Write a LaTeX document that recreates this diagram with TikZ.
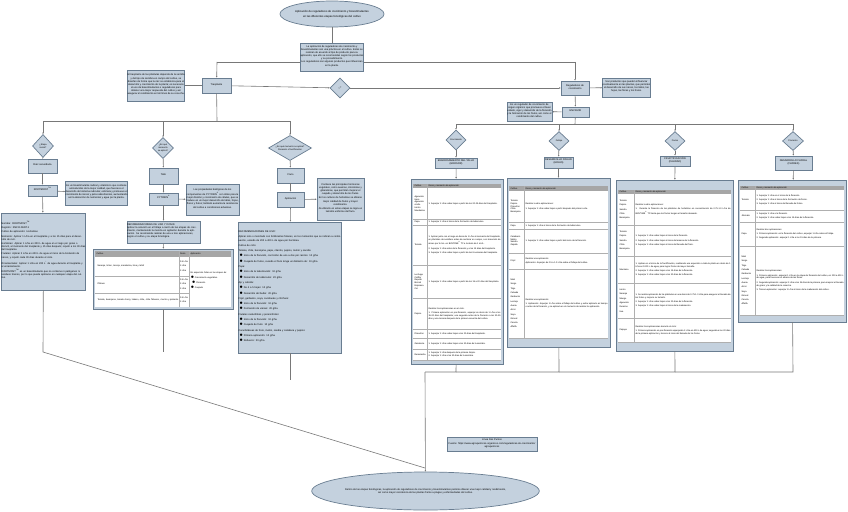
\documentclass[tikz,border=0pt]{standalone}
\usepackage{fontspec}
\setmainfont{Liberation Sans}
\usetikzlibrary{shapes.geometric,fit,arrows.meta}
\definecolor{bf}{RGB}{196,209,222}
\definecolor{bd}{RGB}{105,125,145}
\definecolor{ln}{RGB}{120,120,120}
\definecolor{hd}{RGB}{166,166,166}
\definecolor{rl}{RGB}{175,175,175}
\newcommand\fs{\fontsize{2.5}{3.1}\selectfont}
\newcommand\fc{\fontsize{2.2}{2.8}\selectfont}
\newcommand\trow[7]{%
  \pgfmathsetmacro\wa{#3-#1-2}\pgfmathsetmacro\wb{#4-#3-2}%
  \node[cellL, text width=\wa pt] at ({#1+1},{(#2+#5)/2}) {#6};
  \node[cellR, text width=\wb pt] at ({#3+1},{(#2+#5)/2}) {#7};
  \draw[rowl] (#1,#5) -- (#4,#5);}
\newcommand\tframe[9]{% x1 x2 ytop yhtop yhbot ybodbot ybot sep name
  \fill[bf] (#1,#3) rectangle (#2,#7);
  \draw[bd, line width=0.5pt] (#1,#3) rectangle (#2,#7);
  \fill[white] ({#1+2},#5) rectangle ({#2-2},#6);
  \fill[hd] ({#1+2},#4) rectangle ({#2-2},#5);
  \draw[rowl] (#8,#4) -- (#8,#6);
  \node[cellL] at ({#1+3},{(#4+#5)/2}) {Cultivo};
  \node[cellL] at ({#8+1},{(#4+#5)/2}) {Dosis y momento de aplicación};
  \node[fit={(#1,#3) (#2,#7)}, inner sep=0pt] (#9) {};}
\tikzset{
 box/.style={draw=bd, fill=bf, line width=0.7pt, inner sep=0pt, align=center, font=\fs},
 tbox/.style={box, align=justify},
 dia/.style={diamond, draw=bd, fill=bf, line width=0.7pt, inner sep=0pt},
 dtext/.style={font=\fontsize{2.2}{2.7}\selectfont, align=center, inner sep=0pt},
 ell/.style={ellipse, draw=bd, fill=bf, line width=0.7pt, inner sep=0pt, font=\fs, align=center},
 con/.style={draw=ln, line width=0.6pt},
 arr/.style={con, -{Latex[length=1.6pt,width=1.6pt]}},
 cellL/.style={anchor=west, inner sep=0.3pt, font=\fc, align=left},
 cellR/.style={anchor=west, inner sep=0.3pt, font=\fc, align=justify},
 rowl/.style={draw=rl, line width=0.6pt},
}
\begin{document}
\begin{tikzpicture}[x=1pt,y=-1pt]
\useasboundingbox[fill=white] (0,0) rectangle (848,511);

% ---------- connectors (behind) ----------
\coordinate (hl) at (217,62); \coordinate (hr) at (575,62);
\draw[con] (hl) -- (hr);
\coordinate (lb) at (43,121); \coordinate (lc) at (290,121); \coordinate (lm) at (163,121);
\coordinate (rb) at (456,124); \coordinate (rc) at (793,124);
\coordinate (rm2) at (559,124); \coordinate (rm3) at (675,124); \coordinate (rr) at (575,124);

% ---------- top ----------
\node[ell, minimum width=93pt, minimum height=26pt, font=\fontsize{2.8}{3.4}\selectfont] (title) at (332,14)
 {Aplicación de reguladores de crecimiento y bioestimulantes\\[1.6pt] en las diferentes etapas fenológicas del cultivo};
\node[tbox, fit={(299,43) (365,71)}, text width=63pt] (top) {La aplicación de reguladores de crecimiento y bioestimulantes son una práctica en el cultivo. Estos se realizan de acuerdo al tipo de producto para su aplicación, que ello se recomiendan según los productos y su procedimiento.\\ Los reguladores son algunos productos que influencian en la planta.};
\draw[con] (title) -- (top);

% ---------- left main ----------
\node[tbox, fit={(126,70) (186,101)}, text width=57pt] (ltxt) {El trasplante de las plántulas depende de la semilla y del tipo de siembra en campo del cultivo, se diseñan de forma que la raíz se establezca para el desarrollo y crecimiento de la planta; es necesario el uso de bioestimulantes o reguladores para obtener una mejor respuesta del cultivo y así asegurar el rendimiento en términos de su cosecha.};
\node[box, fit={(202,78) (231,93)}] (tras) {Trasplante};
\draw[arr] (hl) -- (tras);
\draw[con] (ltxt) -- (tras);
\node[dia, minimum width=20pt, minimum height=20pt, label={[dtext]center:¿?}] (q) at (340,88) {};
\draw[arr] (tras) -- (q);

% ---------- right main ----------
\node[box, fit={(561,81) (589,95)}] (reg) {Reguladores de\\crecimiento};
\draw[arr] (hr) -- (reg);
\draw[arr] (q) -- (reg);
\node[tbox, fit={(601,78) (652,97)}, text width=48pt] (rtxt) {Son productos que pueden influenciar positivamente en las plantas, que permiten el desarrollo de sus raíces, los tallos, las hojas, las flores y los frutos.};
\draw[arr] (reg) -- (rtxt);
\node[box, fit={(562,107) (589,117)}] (env) {ENVIGOR};
\draw[arr] (reg) -- (env);
\node[tbox, fit={(506,102) (553,121)}, text width=45pt] (etxt) {Es un regulador de crecimiento de origen orgánico que promueve el buen estado, vigor y desarrollo de la floración y la formación de los frutos, así como el rendimiento del cultivo.};
\draw[arr] (env) -- (etxt);
\draw[con] (env) -- (rr);
\draw[con] (rb) -- (rc);

% ---------- left branches ----------
\draw[con] (tras) -- (217,121);
\draw[con] (lb) -- (lc);
\node[dia, minimum width=21pt, minimum height=23pt, label={[dtext]center:¿Etapa\\inicial?}] (da) at (43,146) {};
\node[dia, minimum width=21pt, minimum height=21pt, label={[dtext]center:¿En qué\\momento\\se aplica?}] (db) at (163,148) {};
\node[dia, minimum width=43pt, minimum height=25pt, label={[dtext]center:¿En qué momento se aplica?\\Floración o fructificación}] (dc) at (290,148) {};
\draw[arr] (lb) -- (da); \draw[arr] (lm) -- (db); \draw[arr] (lc) -- (dc);

% column A
\node[box, fit={(28,159) (57,173)}] (a1) {Raíz secundaria};
\node[box, fit={(28,185) (57,196)}] (a2) {ROOTMOST\textsuperscript{TM}};
\node[tbox, fit={(64,181) (129,205)}, text width=62pt] (atxt) {Es un bioestimulante radical y vitamínico que contiene aminoácidos de la mejor calidad, que favorece el desarrollo del sistema radicular; estimula y promueve el crecimiento de raíces y pelos absorbentes, aumentando así la absorción de nutrientes y agua por la planta.};
\node[tbox, fit={(0,213) (87,290)}, text width=84pt, align=left] (abig) {%
Nombre: ROOTMOST\textsuperscript{TM}\\[1.2pt]
Registro: RSCO-FERT-1\\[1.2pt]
Cultivo de aplicación: Hortalizas\\[1.2pt]
Momento: Aplicar 1 L/ha en el trasplante y a los 15 días para el desarrollo de raíz.\\[1.2pt]
Hortalizas: Aplicar 1 L/ha en 200 L de agua en el riego por goteo o drench, al momento del trasplante y 15 días después; repetir a los 30 días del trasplante.\\[1.2pt]
Frutales: Aplicar 2 L/ha en 400 L de agua al inicio de la brotación de raíces, y repetir cada 30 días durante el ciclo.\\[1.2pt]
Ornamentales: Aplicar 1 L/ha en 200 L\textsuperscript{*} de agua durante el trasplante y al enraizamiento.\\[1.2pt]
ROOTMOST\textsuperscript{TM} es un bioestimulante que no contiene ni patógenos ni residuos tóxicos, por lo que puede aplicarse en cualquier etapa del cultivo.};
\draw[con] (da) -- (a1);
\draw[arr] (a1) -- (a2);
\draw[arr] (a2) -- (abig);
\draw[arr] (a2) -- (atxt);

% column B
\node[box, fit={(149,168) (178,184)}] (b1) {Tallo};
\node[box, fit={(149,193) (178,205)}] (b2) {CYTOKIN\textsuperscript{®}};
\node[tbox, fit={(185,184) (240,215)}, text width=53pt] (btxt) {Las propiedades biológicas de los componentes de CYTOKIN\textsuperscript{®} son útiles para la mejor división y crecimiento de células, que se traduce en un mejor desarrollo de tallos, hojas, flores y frutos; también aumenta la resistencia del cultivo a condiciones adversas.};
\node[tbox, fit={(126,221) (201,243)}, text width=73pt, align=left] (brec) {RECOMENDACIONES DE USO Y DOSIS:\\ Aplicar la solución en el follaje a razón de las etapas de crecimiento, manteniendo la mezcla en agitación durante la aplicación. Se recomienda realizar de una a tres aplicaciones, según el cultivo y su etapa fenológica.};
\draw[arr] (db) -- (b1);
\draw[arr] (b1) -- (b2);
\draw[arr] (b2) -- (btxt);
\draw[arr] (b2) -- (brec);
% table B
\fill[bf] (93,249) rectangle (233,309);
\draw[bd, line width=0.5pt] (93,249) rectangle (233,309);
\fill[hd] (95,251) rectangle (231,257);
\fill[white] (95,257) rectangle (231,307);
\draw[rowl] (179,251) -- (179,307); \draw[rowl] (189,251) -- (189,307);
\draw[rowl] (95,276) -- (189,276); \draw[rowl] (95,293) -- (189,293);
\node[cellL] at (96,254) {Cultivo}; \node[cellL] at (179.5,254) {Dosis}; \node[cellL] at (190,254) {Aplicación};
\node[cellL, text width=80pt] at (97,266) {Naranja, limón, toronja, mandarina, lima y tahití};
\node[cellL, text width=80pt] at (97,284) {Plátano};
\node[cellL, text width=82pt] at (97,300) {Tomate, berenjena, tomate cherry, tabaco, chile, chile Tabasco, morrón y pimiento};
\node[cellL] at (179.5,266) {0.5 L/ha\\[1.5pt]1 L/ha\\[1.5pt]1 L/ha};
\node[cellL] at (179.5,284) {0.5 L/ha\\[1.5pt]1 L/ha\\[1.5pt]1 L/ha};
\node[cellL] at (179.5,300) {0.5 L/ha\\[1.5pt]1 L/ha};
\node[cellL, text width=42pt] at (190,280) {En aspersión foliar en las etapas de:\\[1.5pt] $\bullet$ Crecimiento vegetativo\\[1.5pt] \ \ $\bullet$ Floración\\[1.5pt] $\bullet$ Cuajado};
\node[fit={(93,249) (233,309)}, inner sep=0pt] (tb) {};
\draw[arr] (brec) -- (tb);

% column C
\node[box, fit={(277,168) (304,183)}] (c1) {Fruto};
\node[box, fit={(277,192) (304,207)}] (c2) {Aplicación};
\node[tbox, fit={(316,178) (365,220)}, text width=47pt] (ctxt) {Contiene las principales hormonas vegetales, como auxinas, citocininas y giberelinas, que permiten mejorar el cuajado y desarrollo de los frutos.\\[1.5pt] En los cultivos de hortalizas se obtiene mejor calidad de frutos y mayor rendimiento.\\[1.5pt] Al utilizarlo en estas etapas se logra un tamaño uniforme del fruto.};
\node[tbox, fit={(237,222) (343,353)}, text width=103pt, align=left] (cbig) {%
RECOMENDACIONES DE USO:\\[2.2pt]
Aplicar solo o mezclado con fertilizantes foliares, en los momentos que se indican a continuación, usando de 200 a 400 L de agua por hectárea.\\[2.2pt]
Cultivo de ciclo:\\[2.2pt]
Tomate, chile, berenjena, papa, cilantro, pepino, melón y sandía:\\[2.2pt]
\ $\bullet$ Inicio de la floración, con botón de uno a dos por racimo: 10 g/ha\\[2.2pt]
\ $\bullet$ Cuajado de frutos, cuando el fruto tenga un diámetro de: 10 g/ha\\[2.2pt]
Papa:\\[2.2pt]
\ $\bullet$ Inicio de la tuberización: 10 g/ha\\[2.2pt]
\ $\bullet$ Desarrollo de tubérculos: 20 g/ha\\[2.2pt]
Ajo y cebolla:\\[2.2pt]
\ $\bullet$ De 4 a 5 hojas: 10 g/ha\\[2.2pt]
\ $\bullet$ Desarrollo del bulbo: 20 g/ha\\[2.2pt]
Frijol, garbanzo, soya, cacahuate y chícharo:\\[2.2pt]
\ $\bullet$ Inicio de la floración: 10 g/ha\\[2.2pt]
\ $\bullet$ Formación de vainas: 20 g/ha\\[2.2pt]
Frutales caducifolios y perennifolios:\\[2.2pt]
\ $\bullet$ Inicio de la floración: 10 g/ha\\[2.2pt]
\ $\bullet$ Cuajado de fruto: 10 g/ha\\[2.2pt]
Cucurbitáceas de fruto, melón, sandía y calabaza y pepino:\\[2.2pt]
\ $\bullet$ Primera aplicación: 10 g/ha\\[2.2pt]
\ $\bullet$ Refuerzo: 20 g/ha};
\draw[arr] (dc) -- (c1);
\draw[arr] (c1) -- (c2);
\draw[arr] (c2) -- (ctxt);
\draw[arr] (c2) -- (cbig);

% ---------- right columns ----------
\node[dia, minimum width=20pt, minimum height=20pt, label={[dtext]center:Crecimiento}] (d1) at (456,140) {};
\node[dia, minimum width=20pt, minimum height=19pt, label={[dtext]center:Follaje}] (d2) at (559,141) {};
\node[dia, minimum width=20pt, minimum height=19pt, label={[dtext]center:Frutos}] (d3) at (675,141) {};
\node[dia, minimum width=21pt, minimum height=19pt, label={[dtext]center:Floración}] (d4) at (793,141) {};
\draw[arr] (rb) -- (d1); \draw[arr] (rm2) -- (d2); \draw[arr] (rm3) -- (d3); \draw[arr] (rc) -- (d4);
\node[box, fit={(435,158) (477,168)}] (k1) {ENGROSAMIENTO DEL TALLO\\(GROSOR)};
\node[box, fit={(544,157) (573,168)}] (k2) {DESARROLLO FOLIAR\\(HOJAS)};
\node[box, fit={(660,156) (690,166)}] (k3) {FRUCTIFICACIÓN\\(CALIDAD)};
\node[box, fit={(775,156) (812,170)}] (k4) {DESARROLLO FLORAL\\(FLORES)};
\draw[arr] (d1) -- (k1); \draw[arr] (d2) -- (k2); \draw[arr] (d3) -- (k3); \draw[arr] (d4) -- (k4);

% table 1
\tframe{411}{503}{179}{184}{188}{360}{364}{427}{t1}
\trow{413}{188}{427}{501}{219}{Aguacate\\Hass\\Aguacate\\criollo\\Limón\\Mandarina}{1. Asperjar 1 L/ha sobre hojas a partir de los 20-25 días del trasplante.}
\trow{413}{219}{427}{501}{225}{Papa}{1. Asperjar 1 L/ha al inicio de la formación de tubérculos.}
\trow{413}{225}{427}{501}{265}{Tomate}{1. Aplicar junto con el riego en dosis de 1 L/ha al momento del trasplante, en plántulas de semillero antes de sembrar en campo, con inmersión de raíces por 5 min. en BIOZYME\textsuperscript{®} TF a la dosis de 1 mL/L.\\[1.5pt] 2. Asperjar 1 L/ha antes de la floración y a los 15 días del trasplante.\\[1.5pt] 3. Asperjar 1 L/ha sobre hojas a partir de las 8 semanas del trasplante.}
\trow{413}{265}{427}{501}{298}{Lechuga\\Coliflor\\Repollo\\Brócoli\\Espinaca\\Col}{1. Asperjar 1 L/ha sobre hojas a partir de los 15 a 20 días del trasplante.}
\trow{413}{298}{427}{501}{329}{Pepino}{Realizar tres aplicaciones en el ciclo.\\[1.5pt] 1. Primera aplicación en pre-floración, asperjar en dosis de 1 L/ha a los 15-20 días del trasplante; una segunda antes de la floración a los 30-35 días y una tercera después de la primera cosecha del cultivo.}
\trow{413}{329}{427}{501}{338}{Pimentón}{1. Asperjar 1 L/ha sobre hojas a los 20 días del trasplante.}
\trow{413}{338}{427}{501}{349}{Zanahoria}{1. Asperjar 1 L/ha sobre hojas a los 30 días de la siembra.}
\trow{413}{349}{427}{501}{360}{Remolacha}{1. Asperjar 1 L/ha después de la primera limpia.\\2. Asperjar 1 L/ha a los 30 días de la siembra.}
\draw[arr] (k1) -- (t1);

% table 2
\tframe{507}{610}{178}{186}{191}{338}{347}{524}{t2}
\trow{509}{191}{524}{608}{222}{Tomate\\Pepino\\Pimentón\\Chile\\Berenjena}{Realizar cuatro aplicaciones:\\[1.5pt] 1. Asperjar 1 L/ha sobre hojas a partir después del primer corte.}
\trow{509}{222}{524}{608}{229}{Papa}{1. Asperjar 1 L/ha al inicio de la formación de tubérculos.}
\trow{509}{229}{524}{608}{253}{Calabacín\\Melón\\Sandía\\Zapallo}{1. Asperjar 1 L/ha sobre hojas a partir del inicio de la floración.}
\trow{509}{253}{524}{608}{269}{Frijol}{Realizar una aplicación:\\[1.5pt] Aplicación: Asperjar de 0.5 a 1.0 L/ha sobre el follaje del cultivo.}
\trow{509}{269}{524}{608}{338}{Maíz\\[1.5pt]Sorgo\\[1.5pt]Trigo\\[1.5pt]Cebada\\[1.5pt]Garbanzo\\[1.5pt]Lenteja\\[1.5pt]Avena\\[1.5pt]Arroz\\[1.5pt]Soya\\[1.5pt]Girasol\\[1.5pt]Canola\\[1.5pt]Alfalfa}{Realizar una aplicación:\\[1.5pt] 1. Aplicación: Asperjar 1 L/ha sobre el follaje del cultivo y evitar aplicarlo en tiempo o antes de la floración, y se aplicará en el momento de realizar la aplicación.}
\draw[arr] (k2) -- (t2);

% table 3
\tframe{616}{733}{180}{190}{194}{342}{351}{634}{t3}
\trow{618}{194}{634}{731}{225}{Tomate\\[1.5pt]Pepino\\[1.5pt]Sandía\\[1.5pt]Chile\\[1.5pt]Berenjena}{Realizar cuatro aplicaciones:\\[1.5pt] 1. Durante la floración de las plántulas de hortalizas en concentración de 0.75-1.0 L/ha de BIOZYME\textsuperscript{®} TF hasta que los frutos tengan el tamaño deseado.}
\trow{618}{225}{634}{731}{256}{Tomate\\[1.5pt]Pepino\\[1.5pt]Sandía\\[1.5pt]Chile\\[1.5pt]Berenjena}{1. Asperjar 1 L/ha sobre hojas al inicio de la floración.\\[2pt] 2. Asperjar 1 L/ha sobre hojas al inicio del amarre de la floración.\\[2pt] 3. Asperjar 1 L/ha sobre hojas al inicio del llenado del fruto.}
\trow{618}{256}{634}{731}{283}{Manzano}{1. Aplicar en el inicio de la fructificación, realizando una aspersión a toda la planta en dosis de 1 L/ha en 1000 L de agua, para lograr frutos de mayor tamaño.\\[1.5pt] 2. Asperjar 1 L/ha sobre hojas a los 15 días de la floración.\\[1.5pt] 3. Asperjar 1 L/ha sobre hojas a los 30 días de la floración.}
\trow{618}{283}{634}{731}{318}{Limón\\[1.5pt]Naranja\\[1.5pt]Mango\\[1.5pt]Aguacate\\[1.5pt]Durazno\\[1.5pt]Uva}{1. Se realiza aplicación de las plántulas en una dosis de 0.75-1.0 L/ha para asegurar el llenado de los frutos y mejorar su tamaño.\\[1.5pt] 2. Asperjar 1 L/ha sobre hojas a los 20 días de la floración.\\[1.5pt] 3. Asperjar 1 L/ha sobre hojas al inicio de la maduración.}
\trow{618}{318}{634}{731}{342}{Papaya}{Realizar tres aplicaciones durante el ciclo:\\[1.5pt] 1. Primera aplicación en pre-floración asperjando 1 L/ha en 400 L de agua; segunda a los 20 días de la primera aplicación y tercera al inicio del llenado de los frutos.}
\draw[arr] (k3) -- (t3);

% table 4
\tframe{738}{846}{180}{186}{190}{315}{322}{755}{t4}
\trow{740}{190}{755}{844}{210}{Tomate}{1. Asperjar 1 L/ha en el inicio de la floración.\\[1.5pt] 2. Asperjar 1 L/ha al inicio de la formación de frutos.\\[1.5pt] 3. Asperjar 1 L/ha al inicio del llenado de frutos.}
\trow{740}{210}{755}{844}{222}{Jitomate}{1. Asperjar 1 L/ha a la floración.\\[1.5pt] 2. Asperjar 1 L/ha sobre hojas a los 15 días de la floración.}
\trow{740}{222}{755}{844}{246}{Papa}{Realizar dos aplicaciones:\\[1.5pt] 1. Primera aplicación: en la floración del cultivo, asperjar 1 L/ha sobre el follaje.\\[1.5pt] 2. Segunda aplicación: asperjar 1 L/ha a los 15 días de la primera.}
\trow{740}{246}{755}{844}{315}{Maíz\\[1.5pt]Sorgo\\[1.5pt]Trigo\\[1.5pt]Cebada\\[1.5pt]Garbanzo\\[1.5pt]Lenteja\\[1.5pt]Avena\\[1.5pt]Arroz\\[1.5pt]Soya\\[1.5pt]Girasol\\[1.5pt]Canola\\[1.5pt]Alfalfa}{Realizar tres aplicaciones:\\[1.5pt] 1. Primera aplicación: asperjar 1 L/ha en la etapa de floración del cultivo, en 200 a 400 L de agua, para favorecer el amarre de las flores.\\[1.5pt] 2. Segunda aplicación: asperjar 1 L/ha a los 15 días de la primera, para mejorar el llenado de grano y la calidad de la cosecha.\\[1.5pt] 3. Tercera aplicación: asperjar 1 L/ha al inicio de la maduración del cultivo.}
\draw[arr] (k4) -- (t4);

% ---------- bottom ----------
\node[ell, minimum width=147pt, minimum height=38pt] (fin) at (425.5,491) {Dentro de las etapas fenológicas, la aplicación de reguladores de crecimiento y bioestimulantes permite obtener una mejor calidad y rendimiento,\\ así como mayor resistencia de las plantas frente a plagas y enfermedades del cultivo.};
\node[box, fit={(447,437) (537,451)}] (src) {Línea Dos Puntos\\[1pt] Fuente: https://www.agroquimicos-organicos.com/reguladores-de-crecimiento/\\ agroquimicos};
\coordinate (jn) at (425,372);
\coordinate (jl) at (425,468);
\draw[con] (abig) -- (43,352) -- (jl);
\draw[con] (tb) -- (163,352);
\draw[con] (cbig) -- (290,380);
\draw[con] (t1) -- (456,372) -- (jn);
\draw[con] (t2) -- (559,372) -- (456,372);
\draw[con] (t3) -- (675,372) -- (559,372);
\draw[con] (t4) -- (793,372) -- (675,372);
\draw[arr] (jn) -- (fin);
\end{tikzpicture}
\end{document}
